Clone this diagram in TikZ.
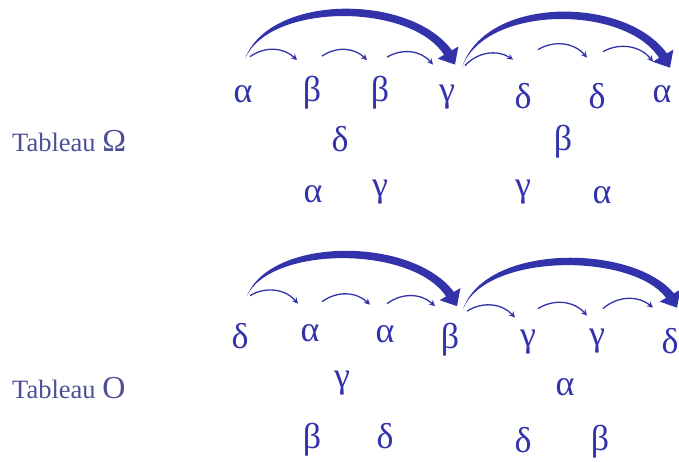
\documentclass[tikz,border=0pt]{standalone}
\usepackage{fontspec}
\setmainfont{Liberation Serif}
\usetikzlibrary{calc,arrows.meta}
\definecolor{ink}{RGB}{50,50,170}
\definecolor{labink}{RGB}{78,78,150}
\tikzset{
  gl/.style={inner sep=0pt,anchor=base,text=ink,font=\fontsize{36}{36}\selectfont},
  tab/.style={inner sep=0pt,anchor=base west,text=labink,font=\fontsize{26.5}{27}\selectfont},
  small/.style={draw=ink,line width=1.3pt,-{Stealth[length=6pt,width=6pt]}},
}
% #1 start, #2 control 1, #3 control 2, #4 head base, #5 tip
\newcommand\bigarrow[5]{%
  \fill[ink] (#1) .. controls ($(#2)+(0,4.5)$) and ($(#3)+(0,4.5)$) .. ($(#4)!4.5pt!90:(#5)$)
    -- ($(#4)!12pt!90:(#5)$) -- (#5) -- ($(#4)!12pt!-90:(#5)$) -- ($(#4)!4.5pt!-90:(#5)$)
    .. controls ($(#3)+(0,-4.5)$) and ($(#2)+(0,-4.5)$) .. (#1) -- cycle;}
\begin{document}
\begin{tikzpicture}[x=1pt,y=1pt]
\useasboundingbox (0,0) rectangle (679,-461);
% ---- Tableau Omega ----
\node[tab] (t1) at (12,-151) {Tableau {\fontsize{32}{32}\selectfont Ω}};
\node[gl] (a1) at (243,-102) {α};
\node[gl] (a2) at (312,-101) {β};
\node[gl] (a3) at (380,-101) {β};
\node[gl] (a4) at (447,-101) {γ};
\node[gl] (a5) at (523,-108) {δ};
\node[gl] (a6) at (597,-108) {δ};
\node[gl] (a7) at (662,-102) {α};
\node[gl] (b1) at (340,-151) {δ};
\node[gl] (b2) at (563,-150) {β};
\node[gl] (c1) at (313,-202) {α};
\node[gl] (c2) at (380,-196) {γ};
\node[gl] (c3) at (523,-196) {γ};
\node[gl] (c4) at (602,-203) {α};
% small arrow ends
\coordinate (sa1) at ($(a1)+(7,37)$);
\coordinate (ea1) at ($(a2)+(-15,32)$);
\coordinate (sa2) at ($(a2)+(10,36)$);
\coordinate (ea2) at ($(a3)+(-13,32)$);
\coordinate (sa3) at ($(a3)+(7,35)$);
\coordinate (ea3) at ($(a4)+(-14,32)$);
\coordinate (sa4) at ($(a4)+(18,31)$);
\coordinate (ea4) at ($(a5)+(-10,36)$);
\coordinate (sa5) at ($(a5)+(15,46)$);
\coordinate (ea5) at ($(a6)+(-10,38)$);
\coordinate (sa6) at ($(a6)+(6,44)$);
\coordinate (ea6) at ($(a7)+(-9,32)$);
\draw[small] (sa1) to[bend left=40] (ea1);
\draw[small] (sa2) to[bend left=40] (ea2);
\draw[small] (sa3) to[bend left=40] (ea3);
\draw[small] (sa4) to[bend left=40] (ea4);
\draw[small] (sa5) to[bend left=40] (ea5);
\draw[small] (sa6) to[bend left=40] (ea6);
% big arrows
\coordinate (g1) at ($(a1)+(2,35)$);
\coordinate (g1t) at ($(a4)+(8,32)$);
\coordinate (g1b) at ($(g1t)+(-7,12)$);
\coordinate (g2) at ($(a4)+(15,29)$);
\coordinate (g2t) at ($(a7)+(8,26)$);
\coordinate (g2b) at ($(g2t)+(-7,12)$);
\bigarrow{g1}{270,2}{410,2}{g1b}{g1t}
\bigarrow{g2}{485,0}{625,0}{g2b}{g2t}
% ---- Tableau O ----
\node[tab] (t2) at (12,-398) {Tableau {\fontsize{32}{32}\selectfont O}};
\node[gl] (d1) at (240,-348) {δ};
\node[gl] (d2) at (310,-341) {α};
\node[gl] (d3) at (385,-342) {α};
\node[gl] (d4) at (450,-348) {β};
\node[gl] (d5) at (528,-346) {γ};
\node[gl] (d6) at (597,-345) {γ};
\node[gl] (d7) at (670,-353) {δ};
\node[gl] (e1) at (342,-387) {γ};
\node[gl] (e2) at (565,-395) {α};
\node[gl] (f1) at (312,-448) {β};
\node[gl] (f2) at (385,-448) {δ};
\node[gl] (f3) at (523,-452) {δ};
\node[gl] (f4) at (600,-450) {β};
\coordinate (sd1) at ($(d1)+(10,40)$);
\coordinate (ed1) at ($(d2)+(-12,29)$);
\coordinate (sd2) at ($(d2)+(12,31)$);
\coordinate (ed2) at ($(d3)+(-15,29)$);
\coordinate (sd3) at ($(d3)+(2,30)$);
\coordinate (ed3) at ($(d4)+(-15,33)$);
\coordinate (sd4) at ($(d4)+(17,28)$);
\coordinate (ed4) at ($(d5)+(-13,24)$);
\coordinate (sd5) at ($(d5)+(10,33)$);
\coordinate (ed5) at ($(d6)+(-10,25)$);
\coordinate (sd6) at ($(d6)+(6,32)$);
\coordinate (ed6) at ($(d7)+(-17,33)$);
\draw[small] (sd1) to[bend left=40] (ed1);
\draw[small] (sd2) to[bend left=40] (ed2);
\draw[small] (sd3) to[bend left=40] (ed3);
\draw[small] (sd4) to[bend left=40] (ed4);
\draw[small] (sd5) to[bend left=40] (ed5);
\draw[small] (sd6) to[bend left=40] (ed6);
\coordinate (h1) at ($(d1)+(7,40)$);
\coordinate (h1t) at ($(d4)+(7,33)$);
\coordinate (h1b) at ($(h1t)+(-7,12)$);
\coordinate (h2) at ($(d4)+(13,30)$);
\coordinate (h2t) at ($(d7)+(7,33)$);
\coordinate (h2b) at ($(h2t)+(-7,12)$);
\bigarrow{h1}{272,-241}{412,-241}{h1b}{h1t}
\bigarrow{h2}{486,-248}{632,-248}{h2b}{h2t}
\end{tikzpicture}
\end{document}
